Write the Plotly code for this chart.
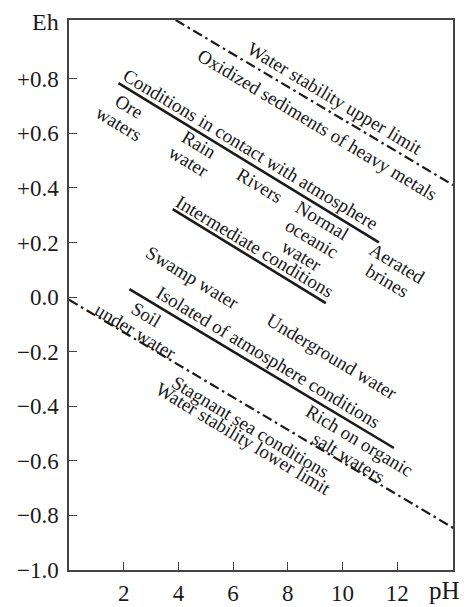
import math
import plotly.graph_objects as go

# ---- data ----
upper_ph = [3.9, 14.05]
upper_eh = [1.015, 0.41]
lower_ph = [0.0, 14.05]
lower_eh = [-0.01, -0.846]
contact_ph = [1.81, 11.33]
contact_eh = [0.784, 0.20]
interm_ph = [3.79, 9.39]
interm_eh = [0.322, -0.022]
isolated_ph = [2.21, 11.88]
isolated_eh = [0.029, -0.553]

label_texts = [
    "Water stability upper limit",
    "Oxidized sediments of heavy metals",
    "Conditions in contact with atmosphere",
    "Ore<br>waters",
    "Rain<br>water",
    "Rivers",
    "Normal<br>oceanic<br>water",
    "Aerated<br>brines",
    "Intermediate conditions",
    "Swamp water",
    "Isolated of atmosphere conditions",
    "Underground water",
    "Soil<br>under water",
    "Stagnant sea conditions",
    "Water stability lower limit",
    "Rich on organic<br>salt waters",
]
label_ph = [9.73, 9.07, 6.65, 2.01, 4.57, 6.98, 8.88, 11.81, 6.80, 4.50, 7.31, 9.62, 2.63, 6.62, 6.36, 10.42]
label_eh = [0.729, 0.634, 0.542, 0.667, 0.527, 0.410, 0.215, 0.092, 0.187, 0.070, -0.220, -0.216, -0.095, -0.473, -0.520, -0.557]

x_ticks = [2, 4, 6, 8, 10, 12]
y_ticks = [-1.0, -0.8, -0.6, -0.4, -0.2, 0.0, 0.2, 0.4, 0.6, 0.8]
y_ticktext = ["\u22121.0", "\u22120.8", "\u22120.6", "\u22120.4", "\u22120.2", "0.0", "+0.2", "+0.4", "+0.6", "+0.8"]

FONT = "Liberation Serif"
INK = "#1a1a1a"
DASHDOT = "10px,4px,2.5px,4px"
ANGLE = 31
LINE_GAP = 20.5

fig = go.Figure()
for xs, ys, dash, w in [
    (upper_ph, upper_eh, DASHDOT, 2.2),
    (lower_ph, lower_eh, DASHDOT, 2.2),
    (contact_ph, contact_eh, "solid", 2.6),
    (interm_ph, interm_eh, "solid", 2.6),
    (isolated_ph, isolated_eh, "solid", 2.6),
]:
    fig.add_trace(go.Scatter(x=xs, y=ys, mode="lines",
                             line=dict(color=INK, width=w, dash=dash),
                             showlegend=False, hoverinfo="skip"))

sa = math.sin(math.radians(ANGLE))
ca = math.cos(math.radians(ANGLE))
for t, x, y in zip(label_texts, label_ph, label_eh):
    lines = t.split("<br>")
    n = len(lines)
    for i, ln in enumerate(lines):
        off = (i - (n - 1) / 2) * LINE_GAP
        fig.add_annotation(x=x, y=y, text=ln, showarrow=False, textangle=ANGLE,
                           xanchor="center", yanchor="middle", align="center",
                           xshift=-off * sa, yshift=-off * ca,
                           font=dict(family=FONT, size=19, color=INK))

fig.add_annotation(x=-0.06, y=1.0218, xref="paper", yref="paper", text="Eh",
                   showarrow=False, xanchor="center", yanchor="top", borderpad=0,
                   font=dict(family=FONT, size=24, color=INK))
fig.add_annotation(x=0.979, y=-0.037, xref="paper", yref="paper", text="pH",
                   showarrow=False, xanchor="center", yanchor="middle",
                   font=dict(family=FONT, size=25, color=INK))

axis_common = dict(showline=True, mirror=True, linecolor="#444", linewidth=1.5,
                   ticks="inside", ticklen=8, tickwidth=1.3, tickcolor="#444",
                   showgrid=False, zeroline=False, automargin=False,
                   tickfont=dict(family=FONT, size=23, color=INK))
fig.update_xaxes(range=[0, 14.04], tickvals=x_ticks, ticklabelstandoff=2, **axis_common)
fig.update_yaxes(range=[-1.0, 1.015], tickvals=y_ticks, ticktext=y_ticktext,
                 ticklabelstandoff=4, **axis_common)

# page body has an 8px margin; compensate so the plot area lands at the reference position
fig.update_layout(width=459, height=599,
                  margin=dict(l=61, r=14, t=12, b=37),
                  paper_bgcolor="white", plot_bgcolor="white")

fig.write_html("out.html")
